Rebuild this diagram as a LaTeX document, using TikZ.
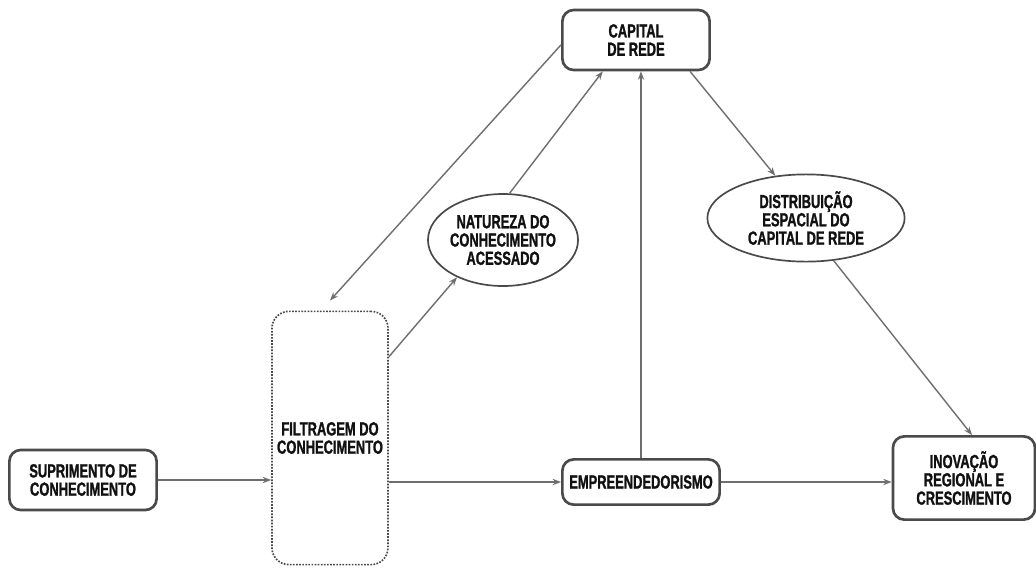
\documentclass[tikz,border=0pt]{standalone}
\usepackage{fontspec}
\usepackage{xcolor}
\usepackage{tikz}
\usetikzlibrary{shapes.geometric,arrows.meta}
\newfontfamily\labfont[FakeStretch=0.68,FakeBold=1.2]{Liberation Sans}
\definecolor{edge}{HTML}{4A4A4A}
\definecolor{line}{HTML}{6E6E6E}
\definecolor{ink}{HTML}{111111}
\tikzset{
  box/.style={draw=edge, line width=1.9pt, rounded corners=8pt, fill=white, align=center, inner sep=2pt},
  filtbox/.style={draw=edge, densely dotted, line width=1.2pt, rounded corners=12pt, align=center},
  oval/.style={ellipse, draw=edge, line width=1.2pt, align=center, inner sep=0pt},
  arr/.style={draw=line, line width=1pt, -{Stealth[length=6pt,width=4.5pt]}},
  every node/.style={text=ink, font=\labfont\bfseries\fontsize{13.5}{13}\selectfont}
}

\begin{document}
\begin{tikzpicture}[x=0.025cm, y=-0.025cm]
  \useasboundingbox (0,0) rectangle (1036,567);
  % boxes
  \node[box, minimum width=3.68cm, minimum height=1.5cm] (cap) at (636,40) {CAPITAL\\DE REDE};
  \node[filtbox, minimum width=2.9cm, minimum height=6.33cm] (filt) at (330,438) {FILTRAGEM DO\\CONHECIMENTO};
  \node[box, minimum width=3.68cm, minimum height=1.5cm] (sup) at (83,480) {SUPRIMENTO DE\\CONHECIMENTO};
  \node[box, minimum width=3.93cm, minimum height=1.13cm] (emp) at (641,482) {EMPREENDEDORISMO};
  \node[box, minimum width=3.55cm, minimum height=2.08cm] (inov) at (964,478) {INOVAÇÃO\\REGIONAL E\\CRESCIMENTO};
  \node[oval, minimum width=3.75cm, minimum height=2.3cm] (nat) at (503,240) {NATUREZA DO\\CONHECIMENTO\\ACESSADO};
  \node[oval, minimum width=4.93cm, minimum height=2.18cm] (dist) at (806,218) {DISTRIBUIÇÃO\\ESPACIAL DO\\CAPITAL DE REDE};
  % connectors
  \draw[arr] (sup.east) -- (sup.east -| filt.west);
  \draw[arr] (filt.east |- emp.west) -- (emp.west);
  \draw[arr] (emp.east) -- (emp.east -| inov.west);
  \draw[arr] (emp.north) -- (emp.north |- cap.south);
  \draw[arr] ([yshift=2.03cm]filt.east) -- (nat.219);
  \draw[arr] (nat.82) -- ([xshift=-0.83cm]cap.south);
  \draw[arr] ([yshift=-0.12cm]cap.west) -- ([yshift=0.25cm]filt.north);
  \draw[arr] ([xshift=1.35cm]cap.south) -- (dist.126);
  \draw[arr] (dist.-57) -- ([xshift=0.2cm]inov.north);
\end{tikzpicture}
\end{document}
